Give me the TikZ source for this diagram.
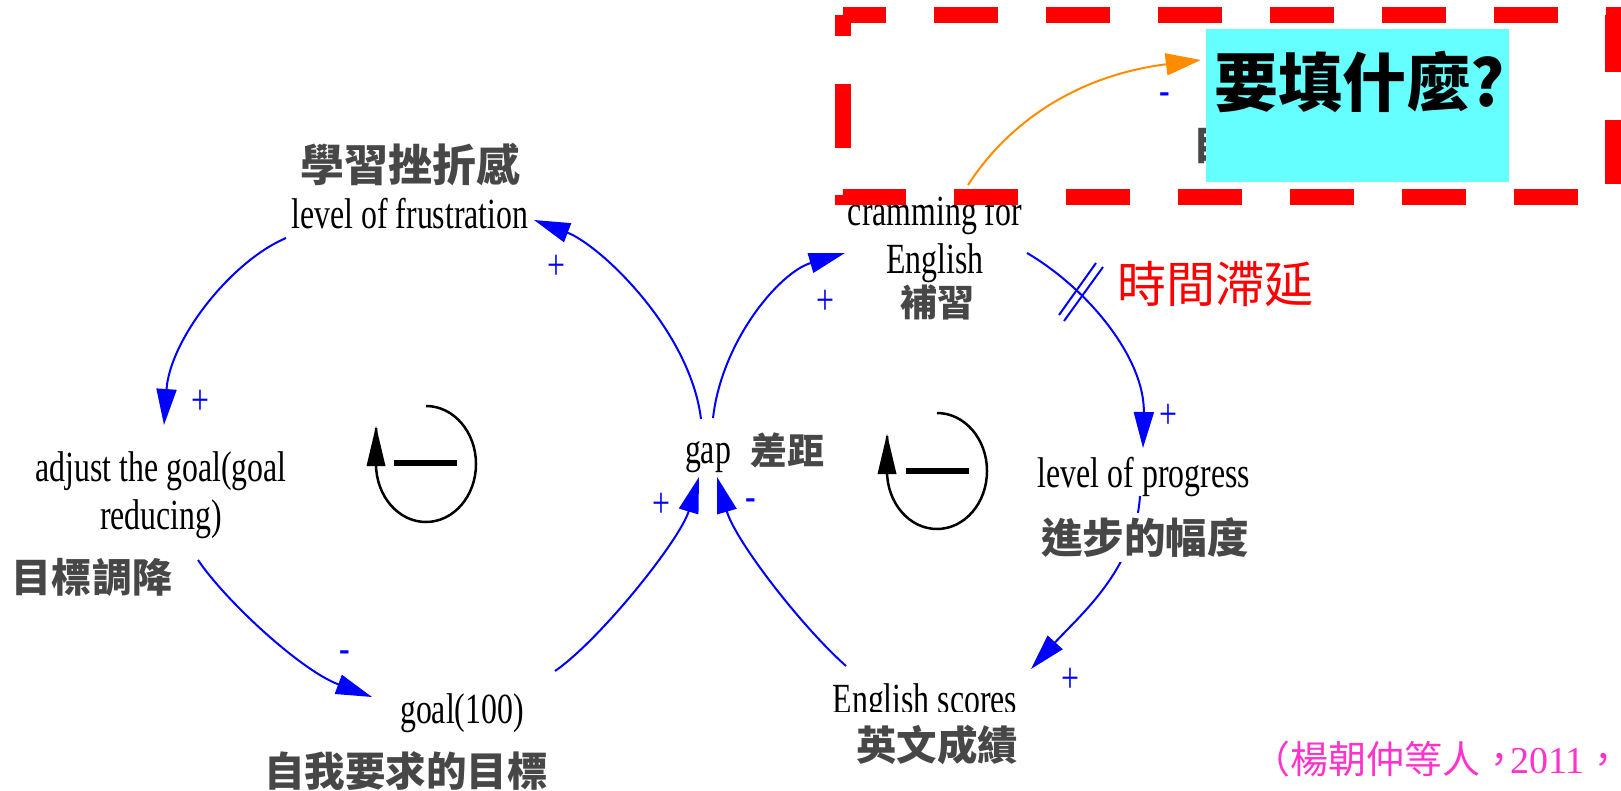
\documentclass[tikz,border=0pt]{standalone}
\usepackage{fontspec}
\newfontfamily\enfont[FakeStretch=0.74]{Liberation Serif}
\newfontfamily\numfont{Liberation Serif}
\newfontfamily\cjk{Noto Sans CJK TC}
\usetikzlibrary{arrows.meta}
\definecolor{linkblue}{RGB}{0,0,255}
\definecolor{qcyan}{RGB}{102,255,255}
\definecolor{citepink}{RGB}{255,51,204}
\definecolor{arroworange}{RGB}{255,140,0}
\tikzset{
  en/.style={font=\enfont\fontsize{43}{48}\selectfont, inner sep=0pt, anchor=base},
  zh/.style={font=\cjk\bfseries\fontsize{#1}{#1}\selectfont, text=black!72, inner sep=0pt},
  sign/.style={font=\enfont\fontsize{43}{48}\selectfont, text=linkblue, inner sep=0pt},
  link/.style={draw=linkblue, line width=2pt, -{Triangle[length=36pt,width=20pt]}},
  loopsym/.style={draw=black, line width=2.5pt},
  loopbar/.style={draw=black, line width=6pt},
}
\begin{document}
\begin{tikzpicture}[x=1pt,y=-1pt]
\path[use as bounding box] (0,0) rectangle (1621,791);

% hidden remnants behind the question box
\node[zh=40, anchor=west] (hid) at (1193,145) {目標};
\node[sign] (hidsign) at (1165,99) {-};

% variable names
\node[en] (lf) at (410,229) {level of frustration};
\node[zh=44] (lfz) at (410,165) {學習挫折感};
\node[en, anchor=north, align=center] (ad) at (161,451) {adjust the goal(goal\\reducing)};
\node[zh=40] (adz) at (92,577) {目標調降};
\node[en] (gl) at (462,723) {goal(100)};
\node[zh=40.5] (glz) at (406,771) {自我要求的目標};
\node[en] (gap) at (708,463) {gap};
\node[zh=37] (gapz) at (787,450) {差距};
\node[en, anchor=north, align=center] (cr) at (935,195) {cramming for\\English};
\node[zh=37] (crz) at (937,302) {補習};
\node[en] (lp) at (1144,487) {level of progress};
\begin{scope}
  \clip (815,640) rectangle (1035,711);
  \node[en] (es) at (925,713) {English scores};
\end{scope}
\node[zh=40.5] (esz) at (937,745) {英文成績};

% causal links
\draw[link] ([shift={(-124,9)}]lf.base) .. controls (230,262) and (170,340) .. ([shift={(3,-26)}]ad.north);
\draw[link] ([shift={(-7,-44)}]gap.base) .. controls (690,330) and (600,245) .. ([shift={(124,-9)}]lf.base);
\draw[link] ([shift={(37,109)}]ad.north) .. controls (225,600) and (300,670) .. ([shift={(-90,-26)}]gl.base);
\draw[link] ([shift={(93,-52)}]gl.base) .. controls (600,640) and (680,540) .. ([shift={(-9,14)}]gap.base);
\draw[link] ([shift={(-79,-47)}]es.base) .. controls (800,625) and (735,540) .. ([shift={(9,14)}]gap.base);
\draw[link] ([shift={(5,-45)}]gap.base) .. controls (722,340) and (780,272) .. ([shift={(-90,58)}]cr.north);
\draw[link] ([shift={(92,58)}]cr.north) .. controls (1090,290) and (1145,360) .. ([shift={(-1,-39)}]lp.base);
\draw[link] ([shift={(-4,9)}]lp.base) .. controls (1135,570) and (1080,615) .. ([shift={(106,-44)}]es.base);

% label of level of progress covers its outgoing link
\node[zh=41.5, fill=white, minimum height=49pt, minimum width=212pt] (lpz) at (1145,537.5) {進步的幅度};

% delay mark
\draw[linkblue, line width=2pt] (1059,315) -- (1096,263);
\draw[linkblue, line width=2pt] (1064,321) -- (1103,267);
\node[font=\cjk\fontsize{49}{49}\selectfont, text=red, inner sep=0pt] (delay) at (1215,284) {時間滯延};

% polarities
\node[sign] (p1) at (200,402) {+};
\node[sign] (p2) at (556,267) {+};
\node[sign] (p3) at (345,657) {-};
\node[sign] (p4) at (661,505) {+};
\node[sign] (p5) at (751,505) {-};
\node[sign] (p6) at (825,302) {+};
\node[sign] (p7) at (1168,416) {+};
\node[sign] (p8) at (1070,680) {+};

% loop symbols
\draw[loopsym] (426,406) arc[start angle=-90, end angle=180, x radius=50, y radius=58]
  -- (376,428);
\fill (376,426) -- (366.5,466) -- (385.5,466) -- cycle;
\draw[loopbar] (394,463) -- (457,463);
\draw[loopsym] (937,413) arc[start angle=-90, end angle=180, x radius=50, y radius=58]
  -- (887,436);
\fill (887,434) -- (877.5,474) -- (896.5,474) -- cycle;
\draw[loopbar] (906,471) -- (969,471);

% red dashed frame
\draw[red, line width=2pt] (835,196) -- (845,196);
\draw[red, line width=16pt, dash pattern=on 64pt off 48pt, dash phase=21pt]
  (843,15) -- (1613,15) -- (1613,197) -- (843,197) -- cycle;

% question box
\node[fill=qcyan, minimum width=303pt, minimum height=153pt, inner sep=0pt] (qbox) at (1357.5,105.5) {};
\node[font=\cjk\bfseries\fontsize{64}{64}\selectfont, inner sep=0pt] (qtext) at (1360,82) {要填什麼?};
\draw[arroworange, line width=2pt, -{Triangle[length=35pt,width=22pt]}]
  ([shift={(33,-10)}]cr.north) .. controls (1010,120) and (1080,75) .. ([shift={(-5,-45.5)}]qbox.west);

% citation
\node[anchor=base west, inner sep=0pt, text=citepink] (cite) at (1252,773)
  {\cjk\fontsize{38}{38}\selectfont （楊朝仲等人，\hspace{-8pt}{\numfont 2011}\makebox[14pt][l]{，}};
\end{tikzpicture}
\end{document}
